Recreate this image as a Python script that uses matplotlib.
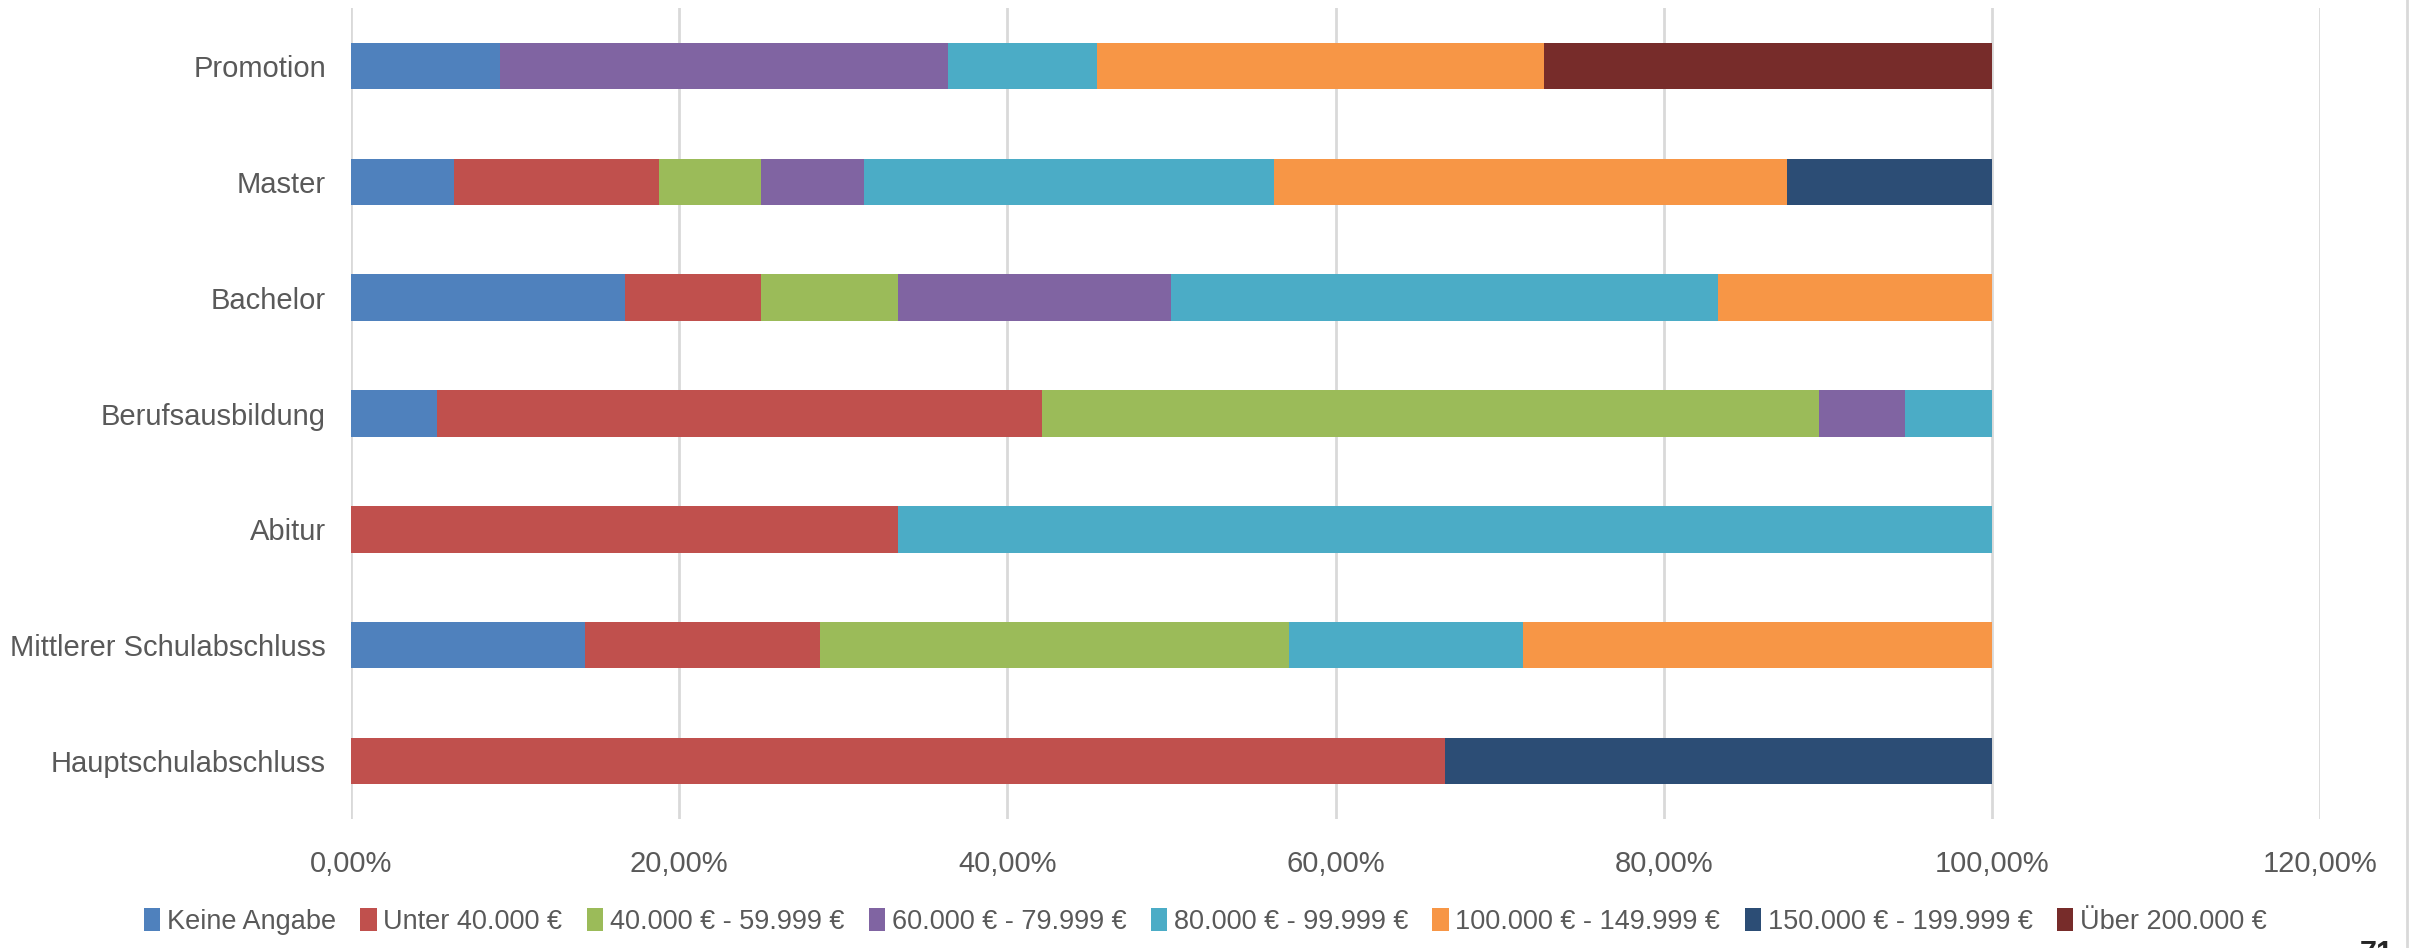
import matplotlib as mpl
mpl.use("Agg")
import matplotlib.pyplot as plt
import numpy as np
from matplotlib.lines import Line2D
from matplotlib.ticker import FuncFormatter

plt.rcParams['font.family'] = ['Liberation Sans', 'DejaVu Sans']

# categories from bottom to top
categories = ["Hauptschulabschluss", "Mittlerer Schulabschluss", "Abitur",
              "Berufsausbildung", "Bachelor", "Master", "Promotion"]

series = ["Keine Angabe", "Unter 40.000 €", "40.000 € - 59.999 €", "60.000 € - 79.999 €",
          "80.000 € - 99.999 €", "100.000 € - 149.999 €", "150.000 € - 199.999 €",
          "Über 200.000 €"]

# shares in percent, one list per series, same order as categories
keine_angabe = [0, 14.29, 0, 5.26, 16.67, 6.25, 9.09]
unter_40 = [66.67, 14.29, 33.33, 36.84, 8.33, 12.50, 0]
s40_60 = [0, 28.57, 0, 47.37, 8.33, 6.25, 0]
s60_80 = [0, 0, 0, 5.26, 16.67, 6.25, 27.27]
s80_100 = [0, 14.29, 66.67, 5.26, 33.33, 25.00, 9.09]
s100_150 = [0, 28.57, 0, 0, 16.67, 31.25, 27.27]
s150_200 = [33.33, 0, 0, 0, 0, 12.50, 0]
ueber_200 = [0, 0, 0, 0, 0, 0, 27.27]

values = [keine_angabe, unter_40, s40_60, s60_80, s80_100, s100_150, s150_200, ueber_200]
colors = ["#4F81BD", "#C0504D", "#9BBB59", "#8064A2", "#4BACC6", "#F79646", "#2C4D75", "#772C2A"]

fig = plt.figure(figsize=(24.25, 9.48), dpi=100)
ax = fig.add_axes([351/2425, 1-819/948, (2320-351)/2425, (819-8)/948])

y = np.arange(len(categories))
left = np.zeros(len(categories))
for name, vals, col in zip(series, values, colors):
    vals = np.array(vals)
    ax.barh(y, vals, left=left, height=0.4, color=col, label=name, zorder=3)
    left += vals

ax.set_xlim(0, 120)
ax.set_ylim(-0.5, len(categories) - 0.5)
ax.set_xticks(np.arange(0, 121, 20))
ax.xaxis.set_major_formatter(FuncFormatter(lambda v, p: ("%.2f%%" % v).replace(".", ",")))
ax.set_yticks(y)
ax.set_yticklabels(categories)
ax.grid(axis="x", color="#D9D9D9", linewidth=2, zorder=0)
for s in ax.spines.values():
    s.set_visible(False)
ax.tick_params(axis="both", length=0, labelsize=21, labelcolor="#595959")
ax.tick_params(axis="x", pad=22)
ax.tick_params(axis="y", pad=18)

leg = fig.legend(loc="lower center", bbox_to_anchor=(0.497, -0.012), ncol=8, frameon=False,
                 fontsize=19.5, handlelength=0.6, handleheight=0.9, handletextpad=0.25,
                 columnspacing=0.9, labelcolor="#595959")

# frame line on the right and cut-off page number
fig.add_artist(Line2D([2407/2425, 2407/2425], [0, 1], color="#D9D9D9", linewidth=2))
fig.text(2360/2425, 1-940/948, "71", fontsize=22, color="#262626", va="top", ha="left",
         fontweight="bold")

fig.savefig("out.png", dpi=100)
